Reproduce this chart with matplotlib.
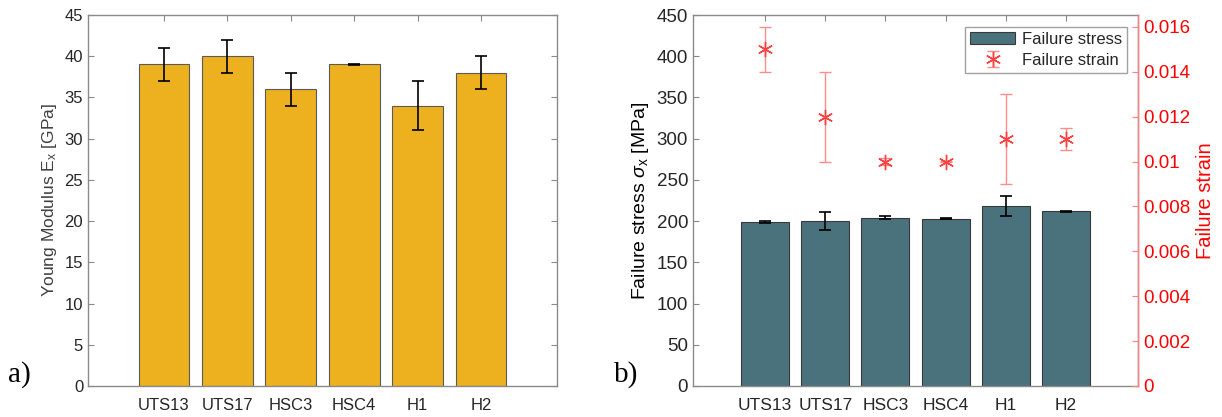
import matplotlib
matplotlib.use("Agg")
import matplotlib.pyplot as plt
import numpy as np

categories = ["UTS13", "UTS17", "HSC3", "HSC4", "H1", "H2"]
young_modulus = [39, 40, 36, 39, 34, 38]
young_err = [2, 2, 2, 0.05, 3, 2]
failure_stress = [199, 200, 204, 203, 218, 212]
stress_err = [1, 11, 2, 0.3, 12, 0.5]
failure_strain = [0.015, 0.012, 0.010, 0.010, 0.011, 0.011]
strain_err = [0.001, 0.002, 0.00015, 0.00002, 0.002, 0.0005]

plt.rcParams['font.family'] = ['Liberation Sans', 'DejaVu Sans']
plt.rcParams['mathtext.fontset'] = 'custom'
plt.rcParams['mathtext.rm'] = 'Liberation Sans'
plt.rcParams['mathtext.it'] = 'Liberation Sans:italic'

W, H = 1222, 417
fig = plt.figure(figsize=(W / 100, H / 100), dpi=100)

spine_col = '#8a8a8a'
text_col = '#262626'
x = np.arange(1, len(categories) + 1)

def frac(l, r, t, b):
    return [l / W, 1 - b / H, (r - l) / W, (b - t) / H]

# ---- panel a
ax1 = fig.add_axes(frac(88, 557, 15, 386))
ax1.bar(x, young_modulus, width=0.8, color='#EDB120', edgecolor='#5a5a5a', linewidth=0.8, zorder=2)
ax1.errorbar(x, young_modulus, yerr=young_err, fmt='none', ecolor='black', elinewidth=1.2,
             capsize=4, capthick=1.2, zorder=3)
ax1.set_xlim(-0.2, 7.2)
ax1.set_ylim(0, 45)
ax1.set_yticks(np.arange(0, 46, 5))
ax1.set_xticks(x)
ax1.set_xticklabels(categories)
ax1.set_ylabel('Young Modulus E$_{\\mathrm{x}}$ [GPa]', fontsize=12.5, color='#404040', labelpad=4)
ax1.tick_params(direction='in', top=True, right=True, length=4, width=0.8, color=spine_col,
                labelsize=12, labelcolor=text_col)
ax1.tick_params(axis='x', pad=9)
for s in ax1.spines.values():
    s.set_color(spine_col)
    s.set_linewidth(1.0)
fig.text(8 / W, 1 - 375 / H, 'a)', fontsize=21, family='Liberation Serif', va='center', ha='left')

# ---- panel b
ax2 = fig.add_axes(frac(693, 1138, 15, 386))
bars = ax2.bar(x, failure_stress, width=0.8, color='#4A727D', edgecolor='#3a3a3a', linewidth=0.8,
               zorder=2, label='Failure stress')
ax2.errorbar(x, failure_stress, yerr=stress_err, fmt='none', ecolor='black', elinewidth=1.2,
             capsize=4, capthick=1.2, zorder=3)
ax2.set_xlim(-0.2, 7.2)
ax2.set_ylim(0, 450)
ax2.set_yticks(np.arange(0, 451, 50))
ax2.set_xticks(x)
ax2.set_xticklabels(categories)
ax2.set_ylabel('Failure stress $\\mathit{\\sigma}_{\\mathrm{x}}$ [MPa]', fontsize=14, color='black', labelpad=4)
ax2.tick_params(axis='x', direction='in', top=True, length=4, width=0.8, color=spine_col,
                labelsize=12.5, labelcolor=text_col, pad=9)
ax2.tick_params(axis='y', direction='in', right=False, length=4, width=0.8, color=spine_col,
                labelsize=13.5, labelcolor=text_col)
for s in ax2.spines.values():
    s.set_color(spine_col)
    s.set_linewidth(1.0)

ax3 = ax2.twinx()
eb = ax3.errorbar(x, failure_strain, yerr=strain_err, fmt='none', ecolor='#ff8c8c',
                  elinewidth=1.0, capsize=4, capthick=1.0, zorder=4)
mk = ax3.plot(x, failure_strain, linestyle='none', marker=(6, 2, 0), markersize=11,
              markeredgewidth=1.0, color='#ff4040', zorder=5)[0]
ax3.set_ylim(0, 0.01653)
ax3.set_yticks(np.arange(0, 0.0161, 0.002))
ax3.set_yticklabels(['0'] + ['%g' % v for v in np.arange(0.002, 0.0161, 0.002)])
ax3.set_xlim(-0.2, 7.2)
ax3.tick_params(axis='y', direction='in', length=4, width=0.8, color='#ff8080',
                labelsize=13.5, labelcolor='#ff0000')
ax3.set_ylabel('Failure strain', fontsize=14.5, color='#ff0000', labelpad=4)
for name, s in ax3.spines.items():
    s.set_visible(name == 'right')
ax3.spines['right'].set_color('#ff8080')
ax3.spines['right'].set_linewidth(1.0)

leg = ax3.legend([bars, (eb, mk)], ['Failure stress', 'Failure strain'], loc='upper right',
                 bbox_to_anchor=(1127 / W, 1 - 27 / H), bbox_transform=fig.transFigure,
                 fontsize=12, frameon=True, fancybox=False, edgecolor='#8a8a8a',
                 borderpad=0.3, handlelength=2.7, handletextpad=0.4, labelspacing=0.35,
                 borderaxespad=0)
leg.get_frame().set_linewidth(1.0)
for t in leg.get_texts():
    t.set_color(text_col)

fig.text(614 / W, 1 - 375 / H, 'b)', fontsize=21, family='Liberation Serif', va='center', ha='left')

fig.savefig('out.png', dpi=100)
